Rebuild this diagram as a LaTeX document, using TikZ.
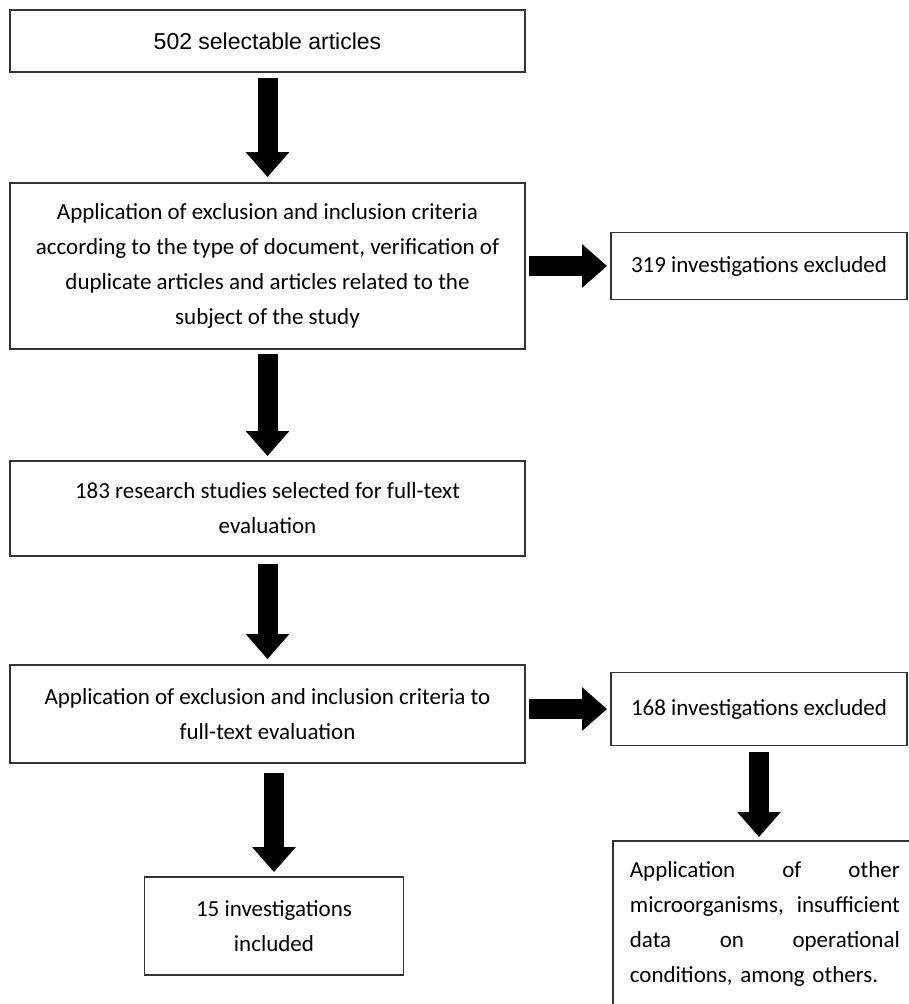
\documentclass[tikz,border=0pt]{standalone}
\usepackage{fontspec}
\setmainfont{Carlito}
\newfontfamily\arialf{Liberation Sans}
\usetikzlibrary{arrows.meta,calc}
\begin{document}
\begin{tikzpicture}[x=1pt,y=-1pt,
  box/.style={draw=black!80, line width=1.8pt, fill=white, align=center,
    font=\fontsize{23}{35}\selectfont, inner sep=0pt},
  blk/.style={black, line width=20pt, -{Triangle[width=42pt,length=25pt]}}]
\clip (0,0) rectangle (909,1004);
\fill[white] (0,0) rectangle (909,1004);
% main column
\node[box, minimum width=515pt, minimum height=62pt,
  font=\arialf\fontsize{23}{28}\selectfont] (n1) at (267.5,41) {502 selectable articles};
\node[box, minimum width=515pt, minimum height=166pt] (n2) at (267.5,266)
  {Application of exclusion and inclusion criteria\\according to the type of document, verification of\\duplicate articles and articles related to the\\subject of the study};
\node[box, minimum width=515pt, minimum height=95pt] (n3) at (267.5,508.5)
  {183 research studies selected for full-text\\evaluation};
\node[box, minimum width=515pt, minimum height=98pt] (n4) at (267.5,714)
  {Application of exclusion and inclusion criteria to\\full-text evaluation};
\node[box, minimum width=259pt, minimum height=98pt] (n5) at (274,926)
  {15 investigations\\included};
% right column
\node[box, minimum width=296pt, minimum height=67pt] (e1) at (759,266)
  {319 investigations excluded};
\node[box, minimum width=296pt, minimum height=73pt] (e2) at (759,709)
  {168 investigations excluded};
\node[box, anchor=north west, align=left, inner xsep=17pt, inner ysep=21pt,
  text width=270pt] (r) at (612,840)
  {\makebox[270pt][l]{Application\hfill of\hfill other}\\
   \makebox[270pt][l]{microorganisms,\hfill insufficient}\\
   \makebox[270pt][l]{data\hfill on\hfill operational}\\
   \makebox[270pt][l]{conditions, among others.}\\
   \rule{0pt}{20pt}};
% block arrows
\draw[blk, shorten <=5pt, shorten >=5pt] (n1.south) -- (n2.north);
\draw[blk, shorten <=4pt, shorten >=4pt] (n2.south) -- (n3.north);
\draw[blk, shorten <=7pt, shorten >=5pt] (n3.south) -- (n4.north);
\draw[blk, shorten <=9pt, shorten >=4pt] (n4.south -| n5.north) -- (n5.north);
\draw[blk, shorten <=3pt, shorten >=3pt] (n2.east |- e1.west) -- (e1.west);
\draw[blk, shorten <=3pt, shorten >=3pt] (n4.east |- e2.west) -- (e2.west);
\draw[blk, shorten <=6pt, shorten >=3pt] (e2.south) -- (e2.south |- r.north);
\end{tikzpicture}
\end{document}
